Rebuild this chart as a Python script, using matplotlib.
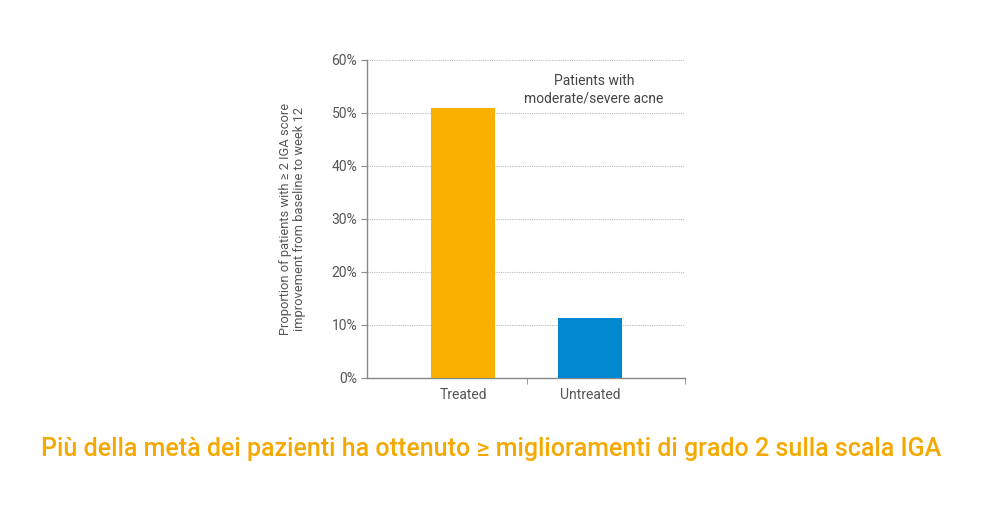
import matplotlib
matplotlib.use("Agg")
import matplotlib.pyplot as plt
from matplotlib.ticker import FuncFormatter

# data
groups = ["Treated", "Untreated"]
share_pct = [51.0, 11.3]
bar_colors = ["#F9B000", "#0089D0"]
yticks = [0, 10, 20, 30, 40, 50, 60]

plt.rcParams["font.family"] = ["Roboto", "DejaVu Sans"]

fig = plt.figure(figsize=(10, 5.3), dpi=100)
ax = fig.add_axes([0.367, 0.2868, 0.318, 0.6])

x = range(len(groups))
ax.bar(x, share_pct, width=0.5, color=bar_colors, zorder=3)

ax.set_xlim(-0.756, 1.748)
ax.set_ylim(0, 60)
ax.set_yticks(yticks)
ax.yaxis.set_major_formatter(FuncFormatter(lambda v, _: f"{v:.0f}%"))

# category labels, separator ticks between/after categories
ax.set_xticks(list(x))
ax.set_xticklabels(groups)
ax.tick_params(axis="x", length=0, pad=7, labelsize=10, colors="#555555")
ax.set_xticks([0.504, 1.748], minor=True)
ax.tick_params(axis="x", which="minor", length=4, color="#888888")
ax.tick_params(axis="y", length=4, color="#888888", labelsize=10,
               labelcolor="#555555", pad=3)

for side in ["top", "right"]:
    ax.spines[side].set_visible(False)
for side in ["left", "bottom"]:
    ax.spines[side].set_color("#888888")
    ax.spines[side].set_linewidth(1.0)

ax.yaxis.grid(True, linestyle=(0, (1, 1)), color="#bbbbbb", linewidth=0.8, zorder=0)

ax.set_ylabel("Proportion of patients with \u2265 2 IGA score\nimprovement from baseline to week 12",
              fontsize=9.3, color="#555555", labelpad=18, linespacing=1.15)

ax.text(0.714, 0.955, "Patients with\nmoderate/severe acne", transform=ax.transAxes,
        ha="center", va="top", fontsize=10, color="#444444", linespacing=1.25)

fig.text(0.491, 0.152, "Più della metà dei pazienti ha ottenuto \u2265 miglioramenti di grado 2 sulla scala IGA",
         ha="center", va="center", fontsize=18, fontweight="medium", color="#F5A800")

fig.savefig("out.png", dpi=100, facecolor="white")
plt.close(fig)
